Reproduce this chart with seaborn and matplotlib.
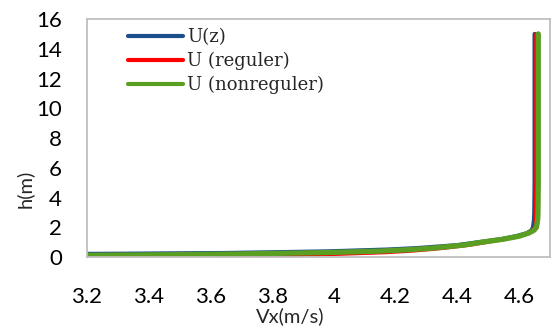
import matplotlib
matplotlib.use("Agg")
import matplotlib.pyplot as plt
from matplotlib.lines import Line2D
import pandas as pd
import seaborn as sns

# Velocity profiles: height h (m) against horizontal velocity Vx (m/s)
h_z = [0.18, 0.22, 0.27, 0.38, 0.50, 0.60, 0.80, 1.00, 1.20, 1.40, 1.60, 1.80, 2.00, 2.50, 3.0, 5.0, 8.0, 11.0, 15.0]
u_z = [2.90, 3.30, 3.65, 3.98, 4.17, 4.27, 4.40, 4.47, 4.54, 4.59, 4.625, 4.640, 4.645, 4.648, 4.649, 4.650, 4.650, 4.650, 4.650]

h_reg = [0.0, 0.05, 0.10, 0.20, 0.30, 0.40, 0.50, 0.60, 0.80, 1.00, 1.20, 1.40, 1.60, 1.80, 2.00, 2.50, 3.0, 5.0, 8.0, 11.0, 15.0]
u_reg = [3.56, 3.72, 3.85, 4.03, 4.17, 4.25, 4.31, 4.36, 4.44, 4.50, 4.555, 4.595, 4.625, 4.642, 4.650, 4.652, 4.653, 4.654, 4.654, 4.654, 4.654]

h_nonreg = [0.05, 0.10, 0.15, 0.20, 0.30, 0.40, 0.50, 0.60, 0.80, 1.00, 1.20, 1.40, 1.60, 1.80, 2.00, 2.50, 3.0, 5.0, 8.0, 11.0, 15.0]
u_nonreg = [2.60, 3.10, 3.45, 3.68, 3.98, 4.15, 4.25, 4.32, 4.42, 4.48, 4.55, 4.60, 4.63, 4.648, 4.656, 4.660, 4.661, 4.662, 4.662, 4.662, 4.662]

labels = ["U(z)", "U (reguler)", "U (nonreguler)"]
colors = ["#1B4F8C", "#FF0000", "#5A9E22"]
widths = [3.0, 2.4, 3.8]

x_ticks = [3.2, 3.4, 3.6, 3.8, 4.0, 4.2, 4.4, 4.6]
x_tick_labels = ["3.2", "3.4", "3.6", "3.8", "4", "4.2", "4.4", "4.6"]
y_ticks = [0, 2, 4, 6, 8, 10, 12, 14, 16]

sns.set_style("white")
plt.rcParams["font.family"] = ["Lato", "DejaVu Sans"]

fig = plt.figure(figsize=(5.53, 3.29), dpi=100)
ax = fig.add_axes([0.1573, 0.2188, 0.8373, 0.7234])

series = [(u_z, h_z), (u_reg, h_reg), (u_nonreg, h_nonreg)]
for (u, h), lab, col, lw in zip(series, labels, colors, widths):
    df = pd.DataFrame({"Vx": u, "h": h})
    sns.lineplot(data=df, x="Vx", y="h", sort=False, estimator=None,
                 color=col, linewidth=lw, ax=ax, legend=False)
    ax.lines[-1].set_solid_capstyle("round")
    ax.lines[-1].set_solid_joinstyle("round")

ax.set_xlim(3.2, 4.7)
ax.set_ylim(0, 16)
ax.set_xticks(x_ticks)
ax.set_xticklabels(x_tick_labels)
ax.set_yticks(y_ticks)

for sp in ax.spines.values():
    sp.set_visible(True)
    sp.set_color("#BFBFBF")
    sp.set_linewidth(1.3)

ax.tick_params(axis="x", direction="out", length=4.5, width=1.3, color="#BFBFBF",
               pad=17, labelsize=16, labelcolor="black")
ax.tick_params(axis="y", length=0, pad=18, labelsize=16, labelcolor="black")

ax.set_xlabel("Vx(m/s)", fontsize=14.5)
ax.set_ylabel("h(m)", fontsize=14.5)
ax.xaxis.set_label_coords(0.438, -0.21)
ax.yaxis.set_label_coords(-0.115, 0.286)

handles = [Line2D([0], [0], color=c, linewidth=3.0, solid_capstyle="round") for c in colors]
leg = ax.legend(handles, labels, loc="upper left", bbox_to_anchor=(0.062, 1.015),
                frameon=False, handlelength=3.0, handletextpad=0.25,
                labelspacing=0.32, borderaxespad=0.3,
                prop={"family": "DejaVu Serif", "size": 13})

fig.savefig("out.png", dpi=100)
